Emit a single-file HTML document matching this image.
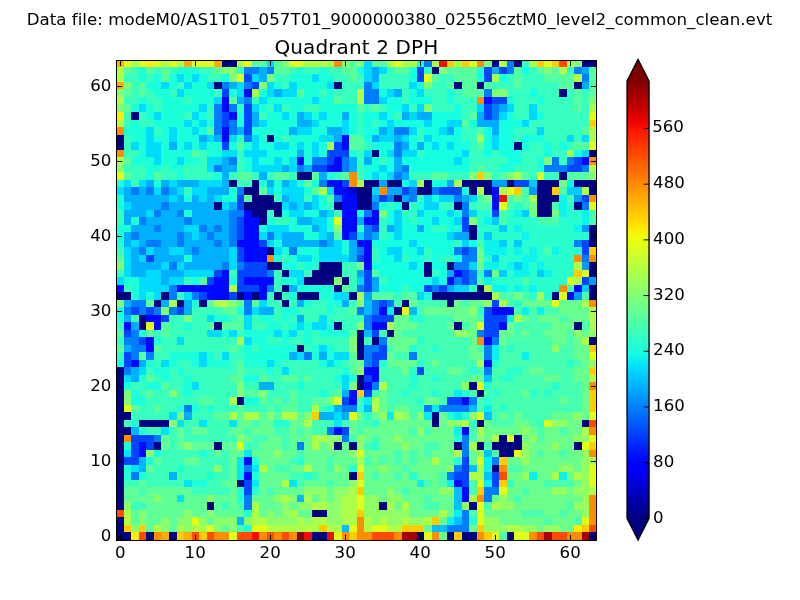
<!DOCTYPE html>
<html><head><meta charset="utf-8"><title>Quadrant 2 DPH</title>
<style>
html,body{margin:0;padding:0;background:#fff;}
body{width:800px;height:600px;overflow:hidden;}
svg{display:block;will-change:transform;font-family:"DejaVu Sans","Liberation Sans",sans-serif;}
</style></head><body>
<svg width="800" height="600" viewBox="0 0 800 600">
<defs><linearGradient id="jg" x1="0" y1="81.10" x2="0" y2="518.40" gradientUnits="userSpaceOnUse"><stop offset="0.0000" stop-color="#800000"/><stop offset="0.0156" stop-color="#920000"/><stop offset="0.0312" stop-color="#a40000"/><stop offset="0.0469" stop-color="#b60000"/><stop offset="0.0625" stop-color="#c80000"/><stop offset="0.0781" stop-color="#da0000"/><stop offset="0.0938" stop-color="#ed0400"/><stop offset="0.1094" stop-color="#ff1300"/><stop offset="0.1250" stop-color="#ff2200"/><stop offset="0.1406" stop-color="#ff3000"/><stop offset="0.1562" stop-color="#ff3f00"/><stop offset="0.1719" stop-color="#ff4e00"/><stop offset="0.1875" stop-color="#ff5d00"/><stop offset="0.2031" stop-color="#ff6c00"/><stop offset="0.2188" stop-color="#ff7a00"/><stop offset="0.2344" stop-color="#ff8900"/><stop offset="0.2500" stop-color="#ff9800"/><stop offset="0.2656" stop-color="#ffa700"/><stop offset="0.2812" stop-color="#ffb600"/><stop offset="0.2969" stop-color="#ffc400"/><stop offset="0.3125" stop-color="#ffd300"/><stop offset="0.3281" stop-color="#ffe200"/><stop offset="0.3438" stop-color="#fbf100"/><stop offset="0.3594" stop-color="#eeff09"/><stop offset="0.3750" stop-color="#e1ff16"/><stop offset="0.3906" stop-color="#d4ff23"/><stop offset="0.4062" stop-color="#c7ff30"/><stop offset="0.4219" stop-color="#baff3c"/><stop offset="0.4375" stop-color="#adff49"/><stop offset="0.4531" stop-color="#a0ff56"/><stop offset="0.4688" stop-color="#94ff63"/><stop offset="0.4844" stop-color="#87ff70"/><stop offset="0.5000" stop-color="#7aff7d"/><stop offset="0.5156" stop-color="#6dff8a"/><stop offset="0.5312" stop-color="#60ff97"/><stop offset="0.5469" stop-color="#53ffa4"/><stop offset="0.5625" stop-color="#46ffb1"/><stop offset="0.5781" stop-color="#39ffbe"/><stop offset="0.5938" stop-color="#2cffca"/><stop offset="0.6094" stop-color="#1fffd7"/><stop offset="0.6250" stop-color="#13fce4"/><stop offset="0.6406" stop-color="#06ecf1"/><stop offset="0.6562" stop-color="#00dcfe"/><stop offset="0.6719" stop-color="#00ccff"/><stop offset="0.6875" stop-color="#00bcff"/><stop offset="0.7031" stop-color="#00acff"/><stop offset="0.7188" stop-color="#009cff"/><stop offset="0.7344" stop-color="#008cff"/><stop offset="0.7500" stop-color="#007dff"/><stop offset="0.7656" stop-color="#006dff"/><stop offset="0.7812" stop-color="#005dff"/><stop offset="0.7969" stop-color="#004dff"/><stop offset="0.8125" stop-color="#003dff"/><stop offset="0.8281" stop-color="#002dff"/><stop offset="0.8438" stop-color="#001dff"/><stop offset="0.8594" stop-color="#000dff"/><stop offset="0.8750" stop-color="#0000ff"/><stop offset="0.8906" stop-color="#0000fa"/><stop offset="0.9062" stop-color="#0000e8"/><stop offset="0.9219" stop-color="#0000d6"/><stop offset="0.9375" stop-color="#0000c4"/><stop offset="0.9531" stop-color="#0000b2"/><stop offset="0.9688" stop-color="#00009f"/><stop offset="0.9844" stop-color="#00008d"/><stop offset="1.0000" stop-color="#000080"/></linearGradient></defs>
<rect width="800" height="600" fill="#fff"/>
<g shape-rendering="crispEdges"><path fill="#000080" d="M222 60h15v7h-15zM492 60h7v7h-7zM514 60h8v7h-8zM582 60h15v7h-15zM432 67h7v7h-7zM214 82h8v7h-8zM334 82h8v7h-8zM454 82h8v7h-8zM477 82h7v7h-7zM574 82h8v7h-8zM559 89h8v8h-8zM131 112h8v8h-8zM116 135h8v7h-8zM267 135h7v7h-7zM116 142h8v8h-8zM514 142h8v8h-8zM372 150h7v7h-7zM589 150h8v7h-8zM297 172h15v8h-15zM559 172h8v8h-8zM229 180h8v7h-8zM252 180h7v7h-7zM364 180h15v7h-15zM387 180h15v7h-15zM424 180h8v7h-8zM462 180h30v7h-30zM507 180h7v7h-7zM537 180h22v7h-22zM574 180h23v7h-23zM244 187h15v8h-15zM357 187h15v8h-15zM417 187h15v8h-15zM469 187h8v8h-8zM484 187h8v8h-8zM537 187h15v8h-15zM589 187h8v8h-8zM252 195h22v7h-22zM357 195h15v7h-15zM394 195h8v7h-8zM537 195h22v7h-22zM214 202h8v8h-8zM244 202h38v8h-38zM334 202h8v8h-8zM357 202h15v8h-15zM402 202h7v8h-7zM454 202h8v8h-8zM537 202h15v8h-15zM574 202h8v8h-8zM252 210h15v7h-15zM274 210h8v7h-8zM537 210h15v7h-15zM259 217h8v8h-8zM469 225h8v7h-8zM589 225h8v7h-8zM469 232h8v8h-8zM589 232h8v8h-8zM589 240h8v7h-8zM267 247h7v8h-7zM267 262h15v8h-15zM319 262h23v8h-23zM424 262h8v8h-8zM447 262h7v8h-7zM589 262h8v8h-8zM282 270h7v7h-7zM312 270h30v7h-30zM424 270h8v7h-8zM589 270h8v7h-8zM304 277h30v8h-30zM342 277h7v8h-7zM282 285h7v7h-7zM334 285h8v7h-8zM477 285h7v7h-7zM589 285h8v7h-8zM116 292h15v8h-15zM161 292h8v8h-8zM237 292h7v8h-7zM252 292h7v8h-7zM274 292h8v8h-8zM297 292h22v8h-22zM349 292h8v8h-8zM432 292h60v8h-60zM552 292h7v8h-7zM589 292h8v8h-8zM154 300h7v7h-7zM177 300h7v7h-7zM199 300h8v7h-8zM282 300h7v7h-7zM402 300h7v7h-7zM447 300h7v7h-7zM394 307h8v8h-8zM139 315h7v7h-7zM139 322h7v8h-7zM214 322h8v8h-8zM334 322h8v8h-8zM454 322h8v8h-8zM574 322h8v8h-8zM357 330h7v7h-7zM387 330h7v7h-7zM357 337h7v8h-7zM372 337h7v8h-7zM589 337h8v8h-8zM297 345h7v7h-7zM357 345h7v7h-7zM357 352h7v8h-7zM116 367h8v8h-8zM116 375h8v7h-8zM357 375h7v7h-7zM116 382h8v8h-8zM357 382h7v8h-7zM469 382h8v8h-8zM116 390h8v7h-8zM477 390h7v7h-7zM116 397h8v8h-8zM237 397h7v8h-7zM116 405h8v7h-8zM116 412h15v8h-15zM432 412h7v8h-7zM116 420h8v7h-8zM139 420h30v7h-30zM432 420h7v7h-7zM477 420h7v7h-7zM582 420h7v7h-7zM116 427h15v8h-15zM116 435h8v7h-8zM499 435h8v7h-8zM514 435h8v7h-8zM116 442h8v8h-8zM154 442h7v8h-7zM214 442h8v8h-8zM334 442h8v8h-8zM349 442h8v8h-8zM454 442h8v8h-8zM477 442h7v8h-7zM492 442h30v8h-30zM574 442h8v8h-8zM116 450h8v7h-8zM499 450h15v7h-15zM116 457h8v8h-8zM116 465h8v7h-8zM492 465h7v7h-7zM116 472h8v8h-8zM349 472h8v8h-8zM116 480h8v7h-8zM237 480h7v7h-7zM116 487h8v8h-8zM116 495h8v7h-8zM116 502h8v8h-8zM207 502h7v8h-7zM379 502h8v8h-8zM469 502h8v8h-8zM312 510h15v7h-15zM116 517h8v8h-8zM116 525h8v7h-8zM116 532h15v8h-15zM146 532h8v8h-8zM169 532h8v8h-8zM312 532h15v8h-15zM417 532h7v8h-7zM447 532h7v8h-7zM462 532h15v8h-15zM507 532h7v8h-7zM589 532h8v8h-8z"/><path fill="#0000d1" d="M349 187h8v8h-8z"/><path fill="#0008ff" d="M244 89h8v8h-8zM222 97h7v7h-7zM484 97h8v7h-8zM222 104h7v8h-7zM229 112h8v8h-8zM222 127h7v8h-7zM222 135h7v7h-7zM342 135h7v7h-7zM342 142h7v8h-7zM297 157h7v8h-7zM334 157h8v8h-8zM582 157h7v8h-7zM327 165h15v7h-15zM327 180h15v7h-15zM334 187h15v8h-15zM492 187h7v8h-7zM342 195h15v7h-15zM492 195h7v7h-7zM342 202h15v8h-15zM492 202h7v8h-7zM244 210h8v7h-8zM342 210h15v7h-15zM372 210h7v7h-7zM244 217h15v8h-15zM342 217h15v8h-15zM364 217h15v8h-15zM244 225h15v7h-15zM342 225h15v7h-15zM244 232h15v8h-15zM342 232h7v8h-7zM237 240h22v7h-22zM357 240h15v7h-15zM244 247h23v8h-23zM364 247h8v8h-8zM244 255h23v7h-23zM364 255h8v7h-8zM364 262h8v8h-8zM222 270h7v7h-7zM454 270h8v7h-8zM214 277h15v8h-15zM244 277h30v8h-30zM447 277h7v8h-7zM116 285h8v7h-8zM177 285h52v7h-52zM259 285h8v7h-8zM574 285h8v7h-8zM207 292h22v8h-22zM244 292h8v8h-8zM259 292h8v8h-8zM567 292h7v8h-7zM379 307h8v8h-8zM492 307h22v8h-22zM146 315h15v7h-15zM124 322h7v8h-7zM154 322h7v8h-7zM372 322h15v8h-15zM499 322h8v8h-8zM146 337h8v8h-8zM484 337h8v8h-8zM146 345h8v7h-8zM131 360h8v7h-8zM484 360h8v7h-8zM364 367h15v8h-15zM372 375h7v7h-7zM364 382h8v8h-8zM349 390h8v7h-8zM349 397h8v8h-8zM462 397h7v8h-7zM334 427h8v8h-8zM462 427h7v8h-7zM139 442h7v8h-7zM139 450h7v7h-7zM244 457h8v8h-8zM244 472h8v8h-8zM454 480h8v7h-8zM462 487h7v8h-7zM462 495h7v7h-7z"/><path fill="#0045ff" d="M417 67h7v7h-7zM484 67h8v7h-8zM499 67h8v7h-8zM244 74h8v8h-8zM417 74h7v8h-7zM484 74h8v8h-8zM252 82h7v7h-7zM222 89h7v8h-7zM492 97h15v7h-15zM244 104h8v8h-8zM484 104h8v8h-8zM222 112h7v8h-7zM244 112h8v8h-8zM484 112h8v8h-8zM222 120h7v7h-7zM244 120h8v7h-8zM244 127h8v8h-8zM222 142h7v8h-7zM334 142h8v8h-8zM327 150h22v7h-22zM327 157h7v8h-7zM574 157h8v8h-8zM312 165h15v7h-15zM567 165h15v7h-15zM342 180h7v7h-7zM514 180h15v7h-15zM402 187h7v8h-7zM439 187h23v8h-23zM237 195h7v7h-7zM379 195h8v7h-8zM582 195h7v7h-7zM237 202h7v8h-7zM492 210h7v7h-7zM237 217h7v8h-7zM462 217h7v8h-7zM237 225h7v7h-7zM372 225h7v7h-7zM462 225h7v7h-7zM237 232h7v8h-7zM349 232h8v8h-8zM259 240h8v7h-8zM582 240h7v7h-7zM237 247h7v8h-7zM462 247h7v8h-7zM582 247h7v8h-7zM146 255h8v7h-8zM237 255h7v7h-7zM357 255h7v7h-7zM244 262h23v8h-23zM214 270h8v7h-8zM237 270h30v7h-30zM364 270h8v7h-8zM462 270h7v7h-7zM207 277h7v8h-7zM237 277h7v8h-7zM364 277h8v8h-8zM462 277h7v8h-7zM582 277h7v8h-7zM237 285h22v7h-22zM364 285h8v7h-8zM424 285h8v7h-8zM439 285h8v7h-8zM199 292h8v8h-8zM229 292h8v8h-8zM379 300h8v7h-8zM492 300h7v7h-7zM131 307h8v8h-8zM146 307h8v8h-8zM177 307h7v8h-7zM484 307h8v8h-8zM161 315h8v7h-8zM372 315h22v7h-22zM484 315h23v7h-23zM484 322h15v8h-15zM124 330h7v7h-7zM372 330h7v7h-7zM484 330h15v7h-15zM139 337h7v8h-7zM379 345h8v7h-8zM124 352h7v8h-7zM372 352h15v8h-15zM124 360h7v7h-7zM372 360h7v7h-7zM417 367h7v8h-7zM364 375h8v7h-8zM364 390h8v7h-8zM342 397h7v8h-7zM447 397h15v8h-15zM342 427h7v8h-7zM131 435h23v7h-23zM131 442h8v8h-8zM146 442h8v8h-8zM131 450h8v7h-8zM124 457h15v8h-15zM462 457h7v8h-7zM462 465h7v7h-7zM454 472h15v8h-15zM492 472h7v8h-7zM244 480h8v7h-8zM462 480h7v7h-7zM492 480h7v7h-7zM244 487h8v8h-8z"/><path fill="#007dff" d="M424 60h8v7h-8zM507 60h7v7h-7zM244 67h15v7h-15zM267 67h7v7h-7zM507 67h7v7h-7zM574 67h8v7h-8zM582 74h7v8h-7zM222 82h7v7h-7zM244 82h8v7h-8zM364 82h8v7h-8zM364 89h15v8h-15zM484 89h8v8h-8zM244 97h8v7h-8zM364 97h15v7h-15zM214 104h8v8h-8zM229 104h8v8h-8zM492 104h7v8h-7zM214 112h8v8h-8zM492 112h7v8h-7zM214 120h8v7h-8zM229 120h8v7h-8zM214 127h8v8h-8zM229 127h8v8h-8zM394 127h15v8h-15zM244 135h8v7h-8zM394 142h8v8h-8zM394 150h8v7h-8zM229 157h8v8h-8zM312 157h15v8h-15zM342 157h7v8h-7zM552 157h7v8h-7zM567 157h7v8h-7zM214 165h8v7h-8zM297 165h7v7h-7zM342 165h7v7h-7zM402 165h7v7h-7zM544 165h23v7h-23zM582 165h7v7h-7zM394 172h8v8h-8zM319 180h8v7h-8zM131 187h8v8h-8zM146 187h8v8h-8zM161 187h8v8h-8zM237 187h7v8h-7zM409 187h8v8h-8zM432 187h7v8h-7zM334 195h8v7h-8zM387 195h7v7h-7zM409 195h8v7h-8zM454 195h8v7h-8zM161 202h8v8h-8zM372 202h7v8h-7zM462 202h7v8h-7zM582 202h7v8h-7zM154 210h7v7h-7zM177 210h7v7h-7zM229 210h15v7h-15zM364 210h8v7h-8zM462 210h7v7h-7zM139 217h7v8h-7zM184 217h8v8h-8zM229 217h8v8h-8zM154 225h7v7h-7zM199 225h8v7h-8zM214 225h8v7h-8zM229 225h8v7h-8zM364 225h8v7h-8zM131 232h8v8h-8zM177 232h7v8h-7zM207 232h7v8h-7zM229 232h8v8h-8zM267 232h7v8h-7zM364 232h8v8h-8zM146 240h15v7h-15zM177 240h7v7h-7zM214 240h8v7h-8zM229 240h8v7h-8zM319 240h8v7h-8zM574 240h8v7h-8zM139 247h7v8h-7zM192 247h7v8h-7zM289 247h8v8h-8zM357 247h7v8h-7zM454 247h8v8h-8zM469 247h8v8h-8zM462 255h15v7h-15zM582 255h7v7h-7zM169 262h8v8h-8zM222 262h7v8h-7zM237 262h7v8h-7zM454 262h15v8h-15zM267 270h7v7h-7zM469 270h8v7h-8zM484 270h8v7h-8zM454 277h8v8h-8zM469 277h8v8h-8zM169 285h8v7h-8zM267 285h7v7h-7zM357 285h7v7h-7zM432 285h7v7h-7zM169 292h8v8h-8zM192 292h7v8h-7zM131 300h15v7h-15zM244 300h8v7h-8zM372 300h7v7h-7zM387 300h7v7h-7zM124 307h7v8h-7zM139 307h7v8h-7zM154 307h7v8h-7zM169 307h8v8h-8zM244 307h8v8h-8zM357 307h7v8h-7zM372 307h7v8h-7zM364 315h8v7h-8zM364 322h8v8h-8zM131 330h8v7h-8zM477 330h7v7h-7zM124 337h15v8h-15zM379 337h8v8h-8zM492 337h7v8h-7zM131 345h15v7h-15zM364 345h15v7h-15zM484 345h8v7h-8zM131 352h8v8h-8zM146 352h8v8h-8zM304 352h8v8h-8zM364 352h8v8h-8zM409 352h8v8h-8zM484 352h8v8h-8zM364 360h8v7h-8zM124 367h7v8h-7zM484 367h8v8h-8zM372 382h7v8h-7zM469 397h8v8h-8zM184 405h8v7h-8zM342 405h15v7h-15zM424 405h8v7h-8zM439 405h30v7h-30zM327 427h7v8h-7zM154 435h7v7h-7zM342 435h7v7h-7zM462 435h7v7h-7zM297 442h7v8h-7zM462 442h7v8h-7zM462 450h7v7h-7zM492 457h7v8h-7zM244 465h8v7h-8zM454 465h8v7h-8zM131 472h8v8h-8zM447 472h7v8h-7zM484 487h15v8h-15zM244 495h8v7h-8zM484 495h8v7h-8zM244 502h8v8h-8zM462 510h7v7h-7zM462 517h7v8h-7zM447 525h22v7h-22z"/><path fill="#009cff" d="M492 180h15v7h-15zM529 187h8v8h-8zM574 195h8v7h-8zM582 225h7v7h-7zM582 262h7v8h-7zM589 277h8v8h-8zM574 292h8v8h-8z"/><path fill="#00a9ff" d="M379 180h8v7h-8zM447 180h7v7h-7zM387 187h15v8h-15zM372 195h7v7h-7zM402 195h7v7h-7zM462 195h7v7h-7zM357 217h7v8h-7zM387 225h7v7h-7zM417 225h7v7h-7zM372 232h7v8h-7zM454 232h15v8h-15zM357 270h7v7h-7zM447 270h7v7h-7zM372 277h7v8h-7zM372 285h7v7h-7zM447 285h7v7h-7zM364 292h8v8h-8z"/><path fill="#00acff" d="M372 67h7v7h-7zM492 67h7v7h-7zM582 67h7v7h-7zM372 74h7v8h-7zM582 82h7v7h-7zM394 89h8v8h-8zM499 104h8v8h-8zM402 112h7v8h-7zM417 112h15v8h-15zM477 112h7v8h-7zM477 120h22v7h-22zM379 127h8v8h-8zM447 127h7v8h-7zM492 127h7v8h-7zM372 135h7v7h-7zM394 135h8v7h-8zM402 142h7v8h-7zM417 142h7v8h-7zM364 157h8v8h-8zM394 157h8v8h-8zM394 165h8v7h-8zM402 172h7v8h-7z"/><path fill="#00b0ff" d="M259 67h8v7h-8zM259 74h8v8h-8zM229 82h8v7h-8zM274 89h8v8h-8zM237 97h7v7h-7zM252 112h7v8h-7zM297 112h7v8h-7zM342 112h7v8h-7zM252 120h7v7h-7zM297 120h15v7h-15zM237 127h7v8h-7zM289 127h8v8h-8zM327 127h15v8h-15zM199 135h8v7h-8zM214 135h8v7h-8zM334 135h8v7h-8zM169 142h8v8h-8zM297 150h7v7h-7zM222 157h7v8h-7zM349 157h8v8h-8zM222 165h15v7h-15zM282 165h7v7h-7zM304 165h8v7h-8zM349 165h8v7h-8zM222 172h7v8h-7zM259 172h8v8h-8zM319 172h8v8h-8zM146 180h8v7h-8zM161 180h8v7h-8zM177 180h22v7h-22zM222 180h7v7h-7zM267 180h7v7h-7zM282 180h7v7h-7zM124 187h7v8h-7zM139 187h7v8h-7zM169 187h8v8h-8zM207 187h22v8h-22zM124 195h45v7h-45zM177 195h7v7h-7zM192 195h7v7h-7zM207 195h7v7h-7zM282 195h7v7h-7zM131 202h30v8h-30zM169 202h45v8h-45zM229 202h8v8h-8zM289 202h8v8h-8zM304 202h8v8h-8zM124 210h22v7h-22zM161 210h16v7h-16zM192 210h37v7h-37zM319 210h8v7h-8zM124 217h7v8h-7zM146 217h38v8h-38zM192 217h37v8h-37zM297 217h15v8h-15zM131 225h23v7h-23zM161 225h23v7h-23zM207 225h7v7h-7zM222 225h7v7h-7zM312 225h7v7h-7zM124 232h7v8h-7zM139 232h38v8h-38zM184 232h8v8h-8zM199 232h8v8h-8zM214 232h15v8h-15zM282 232h22v8h-22zM327 232h7v8h-7zM124 240h7v7h-7zM139 240h7v7h-7zM161 240h16v7h-16zM184 240h30v7h-30zM222 240h7v7h-7zM282 240h37v7h-37zM327 240h7v7h-7zM349 240h8v7h-8zM131 247h8v8h-8zM154 247h15v8h-15zM184 247h8v8h-8zM199 247h30v8h-30zM349 247h8v8h-8zM131 255h8v7h-8zM154 255h30v7h-30zM192 255h37v7h-37zM349 255h8v7h-8zM131 262h30v8h-30zM184 262h38v8h-38zM131 270h15v7h-15zM161 270h23v7h-23zM161 277h8v8h-8zM289 285h8v7h-8zM124 300h7v7h-7zM161 300h8v7h-8zM184 300h8v7h-8zM297 300h7v7h-7zM342 300h7v7h-7zM184 307h8v8h-8zM259 307h15v8h-15zM124 315h7v7h-7zM297 315h7v7h-7zM131 322h8v8h-8zM124 345h7v7h-7zM289 352h8v8h-8zM319 352h8v8h-8zM139 360h7v7h-7zM131 367h8v8h-8zM131 375h8v7h-8zM259 382h15v8h-15zM342 390h7v7h-7zM334 405h8v7h-8zM184 412h8v8h-8zM319 412h15v8h-15zM342 412h7v8h-7z"/><path fill="#00b4ff" d="M131 427h8v8h-8zM139 457h7v8h-7zM139 465h7v7h-7zM169 472h8v8h-8z"/><path fill="#00b9ff" d="M297 495h7v7h-7zM237 517h7v8h-7zM342 525h7v7h-7z"/><path fill="#00bcff" d="M364 300h8v7h-8zM364 307h8v8h-8zM409 307h8v8h-8zM364 330h8v7h-8zM364 405h8v7h-8zM469 405h8v7h-8z"/><path fill="#00c0ff" d="M484 375h8v7h-8zM484 412h8v8h-8zM469 465h8v7h-8zM454 487h8v8h-8zM454 495h8v7h-8zM454 502h8v8h-8zM454 517h8v8h-8zM432 525h15v7h-15z"/><path fill="#00c4ff" d="M484 450h8v7h-8zM484 472h8v8h-8z"/><path fill="#00ccff" d="M529 180h8v7h-8zM567 187h15v8h-15zM522 210h7v7h-7zM492 217h7v8h-7zM499 225h8v7h-8zM484 232h8v8h-8zM499 240h8v7h-8zM514 240h8v7h-8zM492 255h7v7h-7zM514 262h8v8h-8zM499 270h8v7h-8zM537 270h7v7h-7zM582 285h7v7h-7z"/><path fill="#00d4ff" d="M409 180h8v7h-8zM372 187h7v8h-7zM424 195h8v7h-8zM439 195h15v7h-15zM469 195h8v7h-8zM424 202h15v8h-15zM394 210h8v7h-8zM417 210h7v7h-7zM447 210h7v7h-7zM469 210h8v7h-8zM394 217h8v8h-8zM432 217h7v8h-7zM454 217h8v8h-8zM394 225h8v7h-8zM357 232h7v8h-7zM394 232h8v8h-8zM447 232h7v8h-7zM409 240h8v7h-8zM462 240h7v7h-7zM387 247h15v8h-15zM417 247h7v8h-7zM394 255h8v7h-8zM409 262h8v8h-8zM469 262h8v8h-8zM357 277h7v8h-7zM432 277h7v8h-7zM454 285h15v7h-15zM417 292h7v8h-7z"/><path fill="#00d9ff" d="M364 60h8v7h-8zM364 67h8v7h-8zM379 67h8v7h-8zM364 74h8v8h-8zM372 82h7v7h-7zM409 82h8v7h-8zM387 89h7v8h-7zM417 89h7v8h-7zM379 97h8v7h-8zM402 104h7v8h-7zM417 104h7v8h-7zM477 104h7v8h-7zM507 104h7v8h-7zM529 104h8v8h-8zM379 112h8v8h-8zM409 112h8v8h-8zM499 112h8v8h-8zM529 112h8v8h-8zM387 120h7v7h-7zM424 120h8v7h-8zM447 120h15v7h-15zM522 120h7v7h-7zM387 127h7v8h-7zM409 127h8v8h-8zM439 127h8v8h-8zM537 127h7v8h-7zM379 135h15v7h-15zM402 135h7v7h-7zM424 135h8v7h-8zM492 135h7v7h-7zM567 135h7v7h-7zM582 135h7v7h-7zM432 142h7v8h-7zM447 142h7v8h-7zM492 142h7v8h-7zM364 150h8v7h-8zM387 150h7v7h-7zM402 150h15v7h-15zM462 150h7v7h-7zM582 150h7v7h-7zM454 157h8v8h-8zM379 165h8v7h-8zM372 172h7v8h-7zM387 172h7v8h-7z"/><path fill="#00dcfe" d="M267 60h7v7h-7zM177 74h7v8h-7zM192 74h7v8h-7zM252 74h7v8h-7zM312 74h7v8h-7zM161 82h8v7h-8zM184 82h8v7h-8zM207 82h7v7h-7zM237 82h7v7h-7zM267 82h7v7h-7zM289 82h8v7h-8zM327 82h7v7h-7zM177 89h7v8h-7zM237 89h7v8h-7zM267 89h7v8h-7zM282 89h15v8h-15zM214 97h8v7h-8zM259 97h8v7h-8zM312 97h7v7h-7zM139 104h7v8h-7zM199 104h8v8h-8zM252 104h7v8h-7zM274 104h8v8h-8zM154 112h7v8h-7zM192 112h7v8h-7zM282 112h7v8h-7zM304 112h8v8h-8zM319 112h8v8h-8zM184 120h8v7h-8zM199 120h8v7h-8zM259 120h8v7h-8zM312 120h7v7h-7zM342 120h7v7h-7zM146 127h8v8h-8zM169 127h8v8h-8zM192 127h7v8h-7zM297 127h15v8h-15zM342 127h7v8h-7zM146 135h8v7h-8zM169 135h8v7h-8zM207 135h7v7h-7zM229 135h8v7h-8zM252 135h7v7h-7zM319 135h15v7h-15zM131 142h8v8h-8zM146 142h15v8h-15zM184 142h8v8h-8zM199 142h8v8h-8zM252 142h7v8h-7zM274 142h15v8h-15zM297 142h7v8h-7zM312 142h7v8h-7zM146 150h15v7h-15zM222 150h15v7h-15zM244 150h23v7h-23zM312 150h7v7h-7zM154 157h7v8h-7zM177 157h7v8h-7zM207 157h15v8h-15zM252 157h7v8h-7zM274 157h8v8h-8zM289 157h8v8h-8zM207 165h7v7h-7zM252 165h30v7h-30zM289 165h8v7h-8zM124 180h7v7h-7zM139 180h7v7h-7zM169 180h8v7h-8zM199 180h23v7h-23zM289 180h8v7h-8zM116 187h8v8h-8zM154 187h7v8h-7zM177 187h7v8h-7zM192 187h15v8h-15zM267 187h7v8h-7zM282 187h22v8h-22zM327 187h7v8h-7zM169 195h8v7h-8zM199 195h8v7h-8zM214 195h8v7h-8zM289 195h15v7h-15zM312 195h7v7h-7zM124 202h7v8h-7zM222 202h7v8h-7zM282 202h7v8h-7zM297 202h7v8h-7zM312 202h7v8h-7zM146 210h8v7h-8zM289 210h15v7h-15zM327 210h7v7h-7zM312 217h15v8h-15zM184 225h15v7h-15zM267 225h22v7h-22zM319 225h8v7h-8zM192 232h7v8h-7zM259 232h8v8h-8zM274 232h8v8h-8zM319 232h8v8h-8zM131 240h8v7h-8zM267 240h7v7h-7zM334 240h8v7h-8zM124 247h7v8h-7zM146 247h8v8h-8zM169 247h15v8h-15zM229 247h8v8h-8zM274 247h8v8h-8zM319 247h23v8h-23zM124 255h7v7h-7zM139 255h7v7h-7zM229 255h8v7h-8zM297 255h15v7h-15zM319 255h30v7h-30zM124 262h7v8h-7zM161 262h8v8h-8zM177 262h7v8h-7zM229 262h8v8h-8zM124 270h7v7h-7zM146 270h15v7h-15zM184 270h30v7h-30zM289 270h15v7h-15zM116 277h8v8h-8zM139 277h22v8h-22zM169 277h15v8h-15zM297 277h7v8h-7zM139 285h30v7h-30zM139 292h7v8h-7zM154 292h7v8h-7zM184 292h8v8h-8zM334 292h15v8h-15zM259 300h8v7h-8zM252 307h7v8h-7zM207 315h7v7h-7zM244 315h8v7h-8zM319 315h8v7h-8zM244 322h8v8h-8zM297 322h7v8h-7zM312 322h15v8h-15zM207 330h15v7h-15zM229 330h8v7h-8zM274 330h8v7h-8zM289 330h8v7h-8zM177 337h7v8h-7zM244 337h8v8h-8zM319 345h8v7h-8zM199 352h8v8h-8zM222 352h7v8h-7zM297 352h7v8h-7zM334 352h15v8h-15zM161 360h8v7h-8zM199 360h8v7h-8zM267 360h7v7h-7zM327 360h7v7h-7zM139 367h7v8h-7zM282 367h7v8h-7zM124 375h7v7h-7zM342 375h7v7h-7zM192 382h7v8h-7zM342 382h7v8h-7zM169 412h8v8h-8zM334 412h8v8h-8z"/><path fill="#00e4f8" d="M177 420h7v7h-7zM199 420h8v7h-8zM229 420h8v7h-8zM161 427h8v8h-8zM124 450h7v7h-7zM131 465h8v7h-8zM184 480h8v7h-8zM177 495h7v7h-7z"/><path fill="#02e9f4" d="M334 420h8v7h-8zM244 450h8v7h-8zM237 457h7v8h-7zM237 465h7v7h-7zM252 465h7v7h-7zM237 472h7v8h-7zM252 480h7v7h-7zM289 480h8v7h-8z"/><path fill="#06ecf1" d="M387 307h7v8h-7zM454 390h8v7h-8zM364 397h8v8h-8zM432 405h7v7h-7zM387 412h7v8h-7zM424 412h8v8h-8zM454 412h8v8h-8z"/><path fill="#09f0ee" d="M522 307h7v8h-7zM537 307h7v8h-7zM507 315h7v7h-7zM492 345h7v7h-7zM492 352h7v8h-7zM522 352h7v8h-7zM484 405h8v7h-8zM454 427h8v8h-8zM484 457h8v8h-8zM484 465h8v7h-8zM529 472h8v8h-8zM559 472h8v8h-8zM417 480h7v7h-7zM447 480h7v7h-7zM484 480h8v7h-8zM454 510h8v7h-8zM447 517h7v8h-7z"/><path fill="#0cf4eb" d="M567 180h7v7h-7zM559 195h8v7h-8zM559 202h8v8h-8zM514 210h8v7h-8zM559 210h8v7h-8zM582 210h7v7h-7zM484 217h8v8h-8zM582 217h7v8h-7zM514 225h8v7h-8zM574 225h8v7h-8zM522 232h7v8h-7zM484 240h15v7h-15zM484 247h23v8h-23zM514 247h8v8h-8zM529 247h8v8h-8zM552 247h7v8h-7zM522 255h15v7h-15zM484 262h15v8h-15zM507 262h7v8h-7zM522 262h7v8h-7zM537 262h7v8h-7zM514 270h15v7h-15zM544 270h8v7h-8zM484 277h8v8h-8zM492 285h15v7h-15zM514 285h8v7h-8zM529 285h8v7h-8z"/><path fill="#16ffe1" d="M417 60h7v7h-7zM357 67h7v7h-7zM409 67h8v7h-8zM477 67h7v7h-7zM522 67h7v7h-7zM409 74h8v8h-8zM477 74h7v8h-7zM499 74h8v8h-8zM417 82h7v7h-7zM379 89h8v8h-8zM409 89h8v8h-8zM447 89h7v8h-7zM529 89h8v8h-8zM387 97h15v7h-15zM409 97h23v7h-23zM447 97h7v7h-7zM507 97h7v7h-7zM537 97h7v7h-7zM387 104h15v8h-15zM454 104h8v8h-8zM364 112h15v8h-15zM387 112h7v8h-7zM432 112h30v8h-30zM507 112h7v8h-7zM537 112h7v8h-7zM364 120h8v7h-8zM379 120h8v7h-8zM394 120h30v7h-30zM432 120h15v7h-15zM469 120h8v7h-8zM499 120h23v7h-23zM364 127h15v8h-15zM424 127h15v8h-15zM454 127h8v8h-8zM484 127h8v8h-8zM499 127h15v8h-15zM364 135h8v7h-8zM409 135h8v7h-8zM432 135h30v7h-30zM484 135h8v7h-8zM499 135h15v7h-15zM522 135h22v7h-22zM372 142h22v8h-22zM409 142h8v8h-8zM424 142h8v8h-8zM439 142h8v8h-8zM454 142h15v8h-15zM484 142h8v8h-8zM499 142h15v8h-15zM522 142h7v8h-7zM544 142h8v8h-8zM559 142h8v8h-8zM379 150h8v7h-8zM424 150h38v7h-38zM484 150h8v7h-8zM499 150h23v7h-23zM544 150h8v7h-8zM574 150h8v7h-8zM372 157h7v8h-7zM387 157h7v8h-7zM402 157h52v8h-52zM462 157h7v8h-7zM507 157h15v8h-15zM537 157h7v8h-7zM364 165h15v7h-15zM387 165h7v7h-7zM409 165h60v7h-60zM499 165h15v7h-15zM537 165h7v7h-7zM364 172h8v8h-8zM379 172h8v8h-8zM402 180h7v7h-7zM432 180h15v7h-15zM462 187h7v8h-7zM432 195h7v7h-7zM379 202h8v8h-8zM394 202h8v8h-8zM417 202h7v8h-7zM357 210h7v7h-7zM387 210h7v7h-7zM424 210h23v7h-23zM454 210h8v7h-8zM387 217h7v8h-7zM402 217h7v8h-7zM417 217h15v8h-15zM439 217h15v8h-15zM402 225h15v7h-15zM424 225h8v7h-8zM447 225h15v7h-15zM387 232h7v8h-7zM402 232h45v8h-45zM372 240h37v7h-37zM417 240h37v7h-37zM469 240h8v7h-8zM379 247h8v8h-8zM402 247h15v8h-15zM432 247h22v8h-22zM379 255h15v7h-15zM409 255h15v7h-15zM432 255h7v7h-7zM454 255h8v7h-8zM372 262h37v8h-37zM417 262h7v8h-7zM432 262h15v8h-15zM379 270h45v7h-45zM439 270h8v7h-8zM387 277h45v8h-45zM439 277h8v8h-8zM379 285h23v7h-23zM409 285h15v7h-15zM424 292h8v8h-8z"/><path fill="#1cffdb" d="M139 67h7v7h-7zM177 67h22v7h-22zM297 67h7v7h-7zM319 67h8v7h-8zM139 74h7v8h-7zM154 74h7v8h-7zM169 74h8v8h-8zM184 74h8v8h-8zM199 74h8v8h-8zM222 74h7v8h-7zM289 74h23v8h-23zM319 74h15v8h-15zM146 82h15v7h-15zM169 82h8v7h-8zM192 82h15v7h-15zM274 82h8v7h-8zM297 82h30v7h-30zM154 89h15v8h-15zM184 89h30v8h-30zM229 89h8v8h-8zM259 89h8v8h-8zM304 89h15v8h-15zM327 89h7v8h-7zM139 97h7v7h-7zM161 97h23v7h-23zM192 97h22v7h-22zM267 97h45v7h-45zM319 97h15v7h-15zM131 104h8v8h-8zM146 104h8v8h-8zM161 104h38v8h-38zM259 104h8v8h-8zM289 104h15v8h-15zM319 104h38v8h-38zM146 112h8v8h-8zM161 112h23v8h-23zM199 112h8v8h-8zM237 112h7v8h-7zM267 112h15v8h-15zM289 112h8v8h-8zM312 112h7v8h-7zM327 112h15v8h-15zM349 112h8v8h-8zM131 120h8v7h-8zM154 120h30v7h-30zM192 120h7v7h-7zM207 120h7v7h-7zM237 120h7v7h-7zM267 120h30v7h-30zM319 120h23v7h-23zM349 120h8v7h-8zM124 127h22v8h-22zM161 127h8v8h-8zM177 127h15v8h-15zM199 127h8v8h-8zM252 127h37v8h-37zM312 127h15v8h-15zM349 127h8v8h-8zM131 135h15v7h-15zM154 135h15v7h-15zM177 135h22v7h-22zM259 135h8v7h-8zM274 135h8v7h-8zM289 135h30v7h-30zM139 142h7v8h-7zM161 142h8v8h-8zM177 142h7v8h-7zM192 142h7v8h-7zM207 142h15v8h-15zM229 142h8v8h-8zM244 142h8v8h-8zM259 142h15v8h-15zM289 142h8v8h-8zM304 142h8v8h-8zM319 142h8v8h-8zM139 150h7v7h-7zM161 150h31v7h-31zM207 150h15v7h-15zM267 150h30v7h-30zM304 150h8v7h-8zM319 150h8v7h-8zM349 150h8v7h-8zM131 157h23v8h-23zM161 157h16v8h-16zM184 157h15v8h-15zM244 157h8v8h-8zM259 157h15v8h-15zM282 157h7v8h-7zM304 157h8v8h-8zM146 165h15v7h-15zM169 165h15v7h-15zM244 165h8v7h-8zM146 172h8v8h-8zM177 172h7v8h-7zM214 172h8v8h-8zM327 172h7v8h-7zM116 180h8v7h-8zM154 180h7v7h-7zM259 180h8v7h-8zM274 180h8v7h-8zM297 180h7v7h-7zM312 180h7v7h-7zM229 187h8v8h-8zM274 187h8v8h-8zM304 187h8v8h-8zM116 195h8v7h-8zM184 195h8v7h-8zM222 195h15v7h-15zM319 195h8v7h-8zM116 202h8v8h-8zM319 202h8v8h-8zM184 210h8v7h-8zM282 210h7v7h-7zM304 210h15v7h-15zM131 217h8v8h-8zM267 217h7v8h-7zM289 217h8v8h-8zM327 217h7v8h-7zM116 225h15v7h-15zM259 225h8v7h-8zM289 225h23v7h-23zM327 225h7v7h-7zM116 232h8v8h-8zM304 232h15v8h-15zM116 240h8v7h-8zM274 240h8v7h-8zM342 240h7v7h-7zM282 247h7v8h-7zM297 247h22v8h-22zM342 247h7v8h-7zM184 255h8v7h-8zM274 255h8v7h-8zM289 255h8v7h-8zM312 255h7v7h-7zM282 262h15v8h-15zM304 262h15v8h-15zM124 277h15v8h-15zM192 277h7v8h-7zM229 277h8v8h-8zM282 277h15v8h-15zM131 285h8v7h-8zM297 285h37v7h-37zM131 292h8v8h-8zM146 292h8v8h-8zM289 292h8v8h-8zM319 292h15v8h-15zM192 300h7v7h-7zM304 300h8v7h-8zM327 300h15v7h-15zM116 307h8v8h-8zM237 307h7v8h-7zM282 307h15v8h-15zM327 307h7v8h-7zM116 315h8v7h-8zM214 315h15v7h-15zM259 315h15v7h-15zM282 315h7v7h-7zM184 322h8v8h-8zM267 322h15v8h-15zM289 322h8v8h-8zM304 322h8v8h-8zM327 322h7v8h-7zM139 330h7v7h-7zM222 330h7v7h-7zM244 330h30v7h-30zM282 330h7v7h-7zM304 330h8v7h-8zM319 330h30v7h-30zM154 337h7v8h-7zM252 337h15v8h-15zM282 337h7v8h-7zM304 337h8v8h-8zM244 345h8v7h-8zM259 345h38v7h-38zM312 345h7v7h-7zM327 345h7v7h-7zM169 352h30v8h-30zM207 352h7v8h-7zM244 352h45v8h-45zM312 352h7v8h-7zM327 352h7v8h-7zM116 360h8v7h-8zM146 360h8v7h-8zM169 360h8v7h-8zM192 360h7v7h-7zM207 360h22v7h-22zM244 360h23v7h-23zM274 360h8v7h-8zM319 360h8v7h-8zM334 360h8v7h-8zM154 367h15v8h-15zM177 367h7v8h-7zM267 367h7v8h-7zM342 367h7v8h-7zM139 375h7v7h-7zM161 375h8v7h-8zM184 375h8v7h-8zM244 375h15v7h-15zM334 375h8v7h-8zM349 375h8v7h-8zM124 382h7v8h-7zM146 382h15v8h-15zM184 382h8v8h-8zM297 382h7v8h-7zM131 390h8v7h-8zM184 390h8v7h-8zM319 390h8v7h-8zM131 397h15v8h-15zM244 397h15v8h-15zM177 405h7v7h-7zM192 405h7v7h-7zM207 405h7v7h-7zM327 405h7v7h-7z"/><path fill="#1fffd7" d="M131 420h8v7h-8zM139 427h7v8h-7zM124 442h7v8h-7zM154 450h7v7h-7zM199 450h8v7h-8zM146 457h8v8h-8zM124 465h7v7h-7zM177 465h7v7h-7zM124 472h7v8h-7zM139 472h7v8h-7zM207 472h7v8h-7zM192 480h15v7h-15z"/><path fill="#23ffd4" d="M274 420h15v7h-15zM252 457h7v8h-7zM297 457h7v8h-7zM349 465h8v7h-8zM252 472h7v8h-7zM304 472h8v8h-8zM237 487h7v8h-7zM252 487h7v8h-7zM237 495h7v7h-7zM244 510h8v7h-8zM244 525h8v7h-8z"/><path fill="#26ffd1" d="M409 315h15v7h-15zM417 337h7v8h-7zM409 345h8v7h-8zM432 345h7v7h-7zM379 360h8v7h-8zM417 360h7v7h-7zM409 367h8v8h-8zM469 367h8v8h-8zM409 375h8v7h-8zM432 375h7v7h-7zM409 382h8v8h-8zM402 390h7v7h-7zM432 390h7v7h-7zM462 390h7v7h-7zM417 397h7v8h-7zM357 405h7v7h-7zM364 412h8v8h-8zM447 412h7v8h-7zM462 412h7v8h-7z"/><path fill="#29ffce" d="M514 202h8v8h-8zM567 202h7v8h-7zM477 210h15v7h-15zM507 210h7v7h-7zM567 210h15v7h-15zM477 217h7v8h-7zM507 217h30v8h-30zM559 217h23v8h-23zM477 225h22v7h-22zM507 225h7v7h-7zM522 225h52v7h-52zM477 232h7v8h-7zM492 232h30v8h-30zM529 232h60v8h-60zM507 240h7v7h-7zM522 240h52v7h-52zM507 247h7v8h-7zM522 247h7v8h-7zM537 247h7v8h-7zM559 247h23v8h-23zM484 255h8v7h-8zM499 255h23v7h-23zM537 255h37v7h-37zM499 262h8v8h-8zM529 262h8v8h-8zM544 262h30v8h-30zM477 270h7v7h-7zM507 270h7v7h-7zM529 270h8v7h-8zM552 270h22v7h-22zM492 277h30v8h-30zM529 277h38v8h-38zM507 285h7v7h-7zM522 285h7v7h-7zM537 285h22v7h-22zM529 292h8v8h-8zM544 292h8v8h-8zM514 300h8v7h-8zM477 307h7v8h-7zM507 345h7v7h-7zM492 360h7v7h-7zM567 360h7v7h-7zM507 367h15v8h-15zM499 375h15v7h-15zM484 382h8v8h-8zM552 382h7v8h-7zM492 390h7v7h-7zM529 390h8v7h-8zM544 390h8v7h-8zM484 397h8v8h-8zM499 405h8v7h-8zM372 420h7v7h-7zM469 420h8v7h-8zM454 435h8v7h-8zM372 442h7v8h-7zM454 457h8v8h-8zM409 472h8v8h-8zM469 517h8v8h-8z"/><path fill="#2cffca" d="M537 420h7v7h-7zM507 480h7v7h-7z"/><path fill="#33ffc4" d="M417 195h7v7h-7zM387 202h7v8h-7zM409 202h8v8h-8zM439 202h15v8h-15zM469 202h8v8h-8zM402 210h15v7h-15zM379 217h8v8h-8zM409 217h8v8h-8zM357 225h7v7h-7zM379 225h8v7h-8zM432 225h15v7h-15zM379 232h8v8h-8zM454 240h8v7h-8zM372 247h7v8h-7zM424 247h8v8h-8zM372 255h7v7h-7zM402 255h7v7h-7zM424 255h8v7h-8zM439 255h15v7h-15zM432 270h7v7h-7zM379 277h8v8h-8zM402 285h7v7h-7zM469 285h8v7h-8zM394 292h8v8h-8z"/><path fill="#36ffc1" d="M522 60h7v7h-7zM387 67h7v7h-7zM424 67h8v7h-8zM529 67h8v7h-8zM567 67h7v7h-7zM357 74h7v8h-7zM379 74h30v8h-30zM439 74h15v8h-15zM507 74h7v8h-7zM522 74h22v8h-22zM357 82h7v7h-7zM379 82h30v7h-30zM432 82h15v7h-15zM492 82h22v7h-22zM522 82h37v7h-37zM402 89h7v8h-7zM424 89h23v8h-23zM454 89h8v8h-8zM507 89h22v8h-22zM537 89h22v8h-22zM567 89h7v8h-7zM582 89h7v8h-7zM402 97h7v7h-7zM432 97h15v7h-15zM454 97h23v7h-23zM514 97h23v7h-23zM544 97h30v7h-30zM582 97h7v7h-7zM364 104h8v8h-8zM379 104h8v8h-8zM409 104h8v8h-8zM432 104h22v8h-22zM462 104h15v8h-15zM514 104h15v8h-15zM537 104h37v8h-37zM582 104h7v8h-7zM357 112h7v8h-7zM394 112h8v8h-8zM462 112h7v8h-7zM514 112h15v8h-15zM544 112h45v8h-45zM357 120h7v7h-7zM372 120h7v7h-7zM529 120h60v7h-60zM357 127h7v8h-7zM417 127h7v8h-7zM462 127h15v8h-15zM514 127h23v8h-23zM544 127h38v8h-38zM417 135h7v7h-7zM462 135h15v7h-15zM514 135h8v7h-8zM544 135h23v7h-23zM574 135h8v7h-8zM364 142h8v8h-8zM469 142h8v8h-8zM529 142h15v8h-15zM552 142h7v8h-7zM567 142h7v8h-7zM357 150h7v7h-7zM417 150h7v7h-7zM469 150h15v7h-15zM492 150h7v7h-7zM522 150h22v7h-22zM552 150h15v7h-15zM357 157h7v8h-7zM379 157h8v8h-8zM469 157h38v8h-38zM522 157h15v8h-15zM559 157h8v8h-8zM357 165h7v7h-7zM469 165h8v7h-8zM484 165h15v7h-15zM514 165h23v7h-23zM357 172h7v8h-7zM409 172h23v8h-23zM447 172h22v8h-22zM492 172h7v8h-7zM529 172h8v8h-8zM544 172h15v8h-15z"/><path fill="#39ffbe" d="M131 67h8v7h-8zM154 67h7v7h-7zM169 67h8v7h-8zM199 67h15v7h-15zM237 67h7v7h-7zM289 67h8v7h-8zM304 67h15v7h-15zM327 67h15v7h-15zM124 74h15v8h-15zM146 74h8v8h-8zM207 74h15v8h-15zM274 74h15v8h-15zM334 74h15v8h-15zM131 82h8v7h-8zM177 82h7v7h-7zM282 82h7v7h-7zM342 82h15v7h-15zM131 89h8v8h-8zM146 89h8v8h-8zM169 89h8v8h-8zM214 89h8v8h-8zM319 89h8v8h-8zM334 89h23v8h-23zM124 97h15v7h-15zM146 97h15v7h-15zM184 97h8v7h-8zM252 97h7v7h-7zM342 97h15v7h-15zM154 104h7v8h-7zM207 104h7v8h-7zM237 104h7v8h-7zM267 104h7v8h-7zM282 104h7v8h-7zM304 104h15v8h-15zM124 112h7v8h-7zM139 112h7v8h-7zM184 112h8v8h-8zM207 112h7v8h-7zM259 112h8v8h-8zM124 120h7v7h-7zM139 120h15v7h-15zM154 127h7v8h-7zM124 135h7v7h-7zM237 135h7v7h-7zM282 135h7v7h-7zM124 142h7v8h-7zM124 150h15v7h-15zM199 150h8v7h-8zM237 150h7v7h-7zM199 157h8v8h-8zM237 157h7v8h-7zM124 165h22v7h-22zM161 165h8v7h-8zM184 165h23v7h-23zM237 165h7v7h-7zM131 172h15v8h-15zM161 172h16v8h-16zM184 172h30v8h-30zM229 172h8v8h-8zM252 172h7v8h-7zM267 172h7v8h-7zM289 172h8v8h-8zM334 172h8v8h-8zM131 180h8v7h-8zM237 180h15v7h-15zM184 187h8v8h-8zM274 195h8v7h-8zM304 195h8v7h-8zM327 202h7v8h-7zM116 210h8v7h-8zM267 210h7v7h-7zM334 210h8v7h-8zM116 217h8v8h-8zM274 217h15v8h-15zM116 247h8v8h-8zM282 255h7v7h-7zM297 262h7v8h-7zM342 262h15v8h-15zM116 270h8v7h-8zM229 270h8v7h-8zM274 270h8v7h-8zM304 270h8v7h-8zM342 270h15v7h-15zM184 277h8v8h-8zM274 277h8v8h-8zM349 277h8v8h-8zM124 285h7v7h-7zM274 285h8v7h-8zM349 285h8v7h-8zM177 292h7v8h-7zM267 292h7v8h-7zM282 292h7v8h-7zM267 300h15v7h-15zM289 300h8v7h-8zM312 300h15v7h-15zM349 300h8v7h-8zM192 307h30v8h-30zM274 307h8v8h-8zM297 307h30v8h-30zM334 307h15v8h-15zM131 315h8v7h-8zM169 315h15v7h-15zM192 315h15v7h-15zM229 315h8v7h-8zM252 315h7v7h-7zM274 315h8v7h-8zM289 315h8v7h-8zM304 315h15v7h-15zM327 315h30v7h-30zM116 322h8v8h-8zM169 322h15v8h-15zM192 322h15v8h-15zM252 322h15v8h-15zM282 322h7v8h-7zM342 322h15v8h-15zM154 330h7v7h-7zM169 330h38v7h-38zM237 330h7v7h-7zM297 330h7v7h-7zM312 330h7v7h-7zM116 337h8v8h-8zM161 337h16v8h-16zM184 337h53v8h-53zM267 337h15v8h-15zM289 337h15v8h-15zM312 337h37v8h-37zM161 345h68v7h-68zM237 345h7v7h-7zM252 345h7v7h-7zM304 345h8v7h-8zM334 345h15v7h-15zM116 352h8v8h-8zM154 352h15v8h-15zM214 352h8v8h-8zM229 352h15v8h-15zM154 360h7v7h-7zM177 360h15v7h-15zM229 360h8v7h-8zM282 360h37v7h-37zM342 360h7v7h-7zM146 367h8v8h-8zM169 367h8v8h-8zM184 367h53v8h-53zM244 367h23v8h-23zM274 367h8v8h-8zM289 367h53v8h-53zM154 375h7v7h-7zM169 375h15v7h-15zM192 375h37v7h-37zM267 375h15v7h-15zM297 375h7v7h-7zM312 375h22v7h-22zM131 382h15v8h-15zM169 382h15v8h-15zM199 382h38v8h-38zM244 382h15v8h-15zM274 382h23v8h-23zM304 382h38v8h-38zM139 390h7v7h-7zM154 390h15v7h-15zM177 390h7v7h-7zM192 390h45v7h-45zM267 390h22v7h-22zM297 390h22v7h-22zM327 390h7v7h-7zM146 397h53v8h-53zM214 397h15v8h-15zM267 397h7v8h-7zM282 397h7v8h-7zM297 397h15v8h-15zM139 405h15v7h-15zM161 405h16v7h-16zM199 405h8v7h-8zM214 405h23v7h-23zM244 405h23v7h-23zM274 405h8v7h-8zM297 405h15v7h-15zM319 405h8v7h-8zM131 412h38v8h-38zM192 412h22v8h-22z"/><path fill="#3cffba" d="M124 420h7v7h-7zM184 420h15v7h-15zM207 420h22v7h-22zM146 427h15v8h-15zM169 427h8v8h-8zM184 427h8v8h-8zM207 427h22v8h-22zM169 435h8v7h-8zM184 435h53v7h-53zM169 442h8v8h-8zM161 450h38v7h-38zM207 450h7v7h-7zM222 450h7v7h-7zM161 457h23v8h-23zM199 457h30v8h-30zM154 465h23v7h-23zM184 465h30v7h-30zM222 465h7v7h-7zM146 472h23v8h-23zM177 472h30v8h-30zM214 472h15v8h-15zM124 480h15v7h-15zM146 480h38v7h-38zM207 480h15v7h-15zM139 487h7v8h-7zM192 487h37v8h-37zM131 502h15v8h-15zM222 502h7v8h-7z"/><path fill="#43ffb4" d="M394 300h8v7h-8zM417 300h30v7h-30zM462 300h7v7h-7zM417 307h7v8h-7zM357 315h7v7h-7zM424 315h30v7h-30zM417 322h30v8h-30zM462 322h7v8h-7zM379 330h8v7h-8zM402 330h52v7h-52zM364 337h8v8h-8zM424 337h45v8h-45zM387 345h7v7h-7zM417 345h15v7h-15zM439 345h30v7h-30zM394 352h15v8h-15zM417 352h52v8h-52zM424 360h8v7h-8zM439 360h38v7h-38zM379 367h23v8h-23zM424 367h23v8h-23zM462 367h7v8h-7zM379 375h30v7h-30zM417 375h15v7h-15zM439 375h30v7h-30zM387 382h22v8h-22zM417 382h45v8h-45zM372 390h7v7h-7zM387 390h15v7h-15zM409 390h23v7h-23zM439 390h15v7h-15zM469 390h8v7h-8zM357 397h7v8h-7zM387 397h30v8h-30zM439 397h8v8h-8zM387 405h7v7h-7zM409 405h15v7h-15zM409 412h8v8h-8zM252 420h7v7h-7zM312 420h22v7h-22zM342 420h7v7h-7zM244 427h8v8h-8zM274 427h15v8h-15zM297 427h7v8h-7zM312 427h15v8h-15zM252 435h15v7h-15zM282 435h7v7h-7zM349 435h8v7h-8zM244 442h15v8h-15zM282 442h7v8h-7zM297 450h7v7h-7zM289 457h8v8h-8zM327 457h7v8h-7zM274 465h15v7h-15zM327 465h7v7h-7zM289 472h15v8h-15zM312 472h7v8h-7zM297 480h7v7h-7zM327 480h7v7h-7zM267 487h7v8h-7zM237 502h7v8h-7zM237 525h7v7h-7z"/><path fill="#46ffb1" d="M507 300h7v7h-7zM514 307h8v8h-8zM529 307h8v8h-8zM544 307h15v8h-15zM477 315h7v7h-7zM529 315h8v7h-8zM559 315h8v7h-8zM514 322h38v8h-38zM582 322h7v8h-7zM514 330h8v7h-8zM529 330h15v7h-15zM567 330h7v7h-7zM507 337h45v8h-45zM567 337h7v8h-7zM477 345h7v7h-7zM499 345h8v7h-8zM514 345h38v7h-38zM559 345h15v7h-15zM499 352h23v8h-23zM529 352h45v8h-45zM499 360h68v7h-68zM574 360h8v7h-8zM477 367h7v8h-7zM492 367h15v8h-15zM522 367h7v8h-7zM544 367h30v8h-30zM492 375h7v7h-7zM514 375h30v7h-30zM559 375h15v7h-15zM492 382h60v8h-60zM559 382h23v8h-23zM484 390h8v7h-8zM499 390h23v7h-23zM537 390h7v7h-7zM552 390h30v7h-30zM477 397h7v8h-7zM492 397h67v8h-67zM567 397h15v8h-15zM477 405h7v7h-7zM492 405h7v7h-7zM507 405h75v7h-75zM492 412h7v8h-7zM507 412h7v8h-7zM522 412h30v8h-30zM357 420h15v7h-15zM357 427h7v8h-7zM409 427h8v8h-8zM424 427h8v8h-8zM469 427h8v8h-8zM372 435h7v7h-7zM469 435h8v7h-8zM364 442h8v8h-8zM424 442h15v8h-15zM394 450h8v7h-8zM409 450h8v7h-8zM424 450h8v7h-8zM364 457h8v8h-8zM379 457h8v8h-8zM394 457h8v8h-8zM409 457h8v8h-8zM402 465h7v7h-7zM372 472h7v8h-7zM394 472h8v8h-8zM439 472h8v8h-8zM424 480h8v7h-8zM439 480h8v7h-8zM469 480h8v7h-8zM402 487h7v8h-7zM469 487h8v8h-8zM424 495h8v7h-8zM424 502h15v8h-15zM469 510h8v7h-8z"/><path fill="#49ffad" d="M522 187h7v8h-7zM559 187h8v8h-8zM477 195h7v7h-7zM507 195h7v7h-7zM522 195h7v7h-7zM567 195h7v7h-7zM477 202h15v8h-15zM507 202h7v8h-7zM522 202h7v8h-7zM552 202h7v8h-7zM499 210h8v7h-8zM589 210h8v7h-8zM499 217h8v8h-8zM537 217h22v8h-22zM589 217h8v8h-8zM477 240h7v7h-7zM544 247h8v8h-8zM477 277h7v8h-7zM522 277h7v8h-7zM567 285h7v7h-7zM499 292h15v8h-15zM522 292h7v8h-7zM582 292h7v8h-7zM492 420h22v7h-22zM529 420h8v7h-8zM537 427h7v8h-7zM559 427h8v8h-8zM537 435h7v7h-7zM484 442h8v8h-8zM492 450h7v7h-7zM537 450h7v7h-7zM559 450h8v7h-8zM507 465h15v7h-15zM544 480h30v7h-30zM522 487h7v8h-7zM514 495h8v7h-8zM484 502h8v8h-8zM567 502h7v8h-7zM522 510h22v7h-22zM559 510h8v7h-8zM544 517h8v8h-8zM574 517h8v8h-8zM499 532h8v8h-8z"/><path fill="#53ffa4" d="M372 270h7v7h-7zM372 292h22v8h-22zM402 292h15v8h-15z"/><path fill="#56ffa0" d="M372 60h15v7h-15zM394 67h15v7h-15zM447 67h30v7h-30zM514 67h8v7h-8zM537 67h7v7h-7zM552 67h7v7h-7zM589 67h8v7h-8zM432 74h7v8h-7zM454 74h23v8h-23zM514 74h8v8h-8zM544 74h30v8h-30zM589 74h8v8h-8zM447 82h7v7h-7zM462 82h15v7h-15zM484 82h8v7h-8zM514 82h8v7h-8zM559 82h15v7h-15zM589 82h8v7h-8zM462 89h22v8h-22zM574 89h8v8h-8zM589 89h8v8h-8zM574 97h8v7h-8zM357 104h7v8h-7zM372 104h7v8h-7zM574 104h8v8h-8zM469 112h8v8h-8zM462 120h7v7h-7zM477 127h7v8h-7zM582 127h7v8h-7zM357 135h7v7h-7zM357 142h7v8h-7zM477 142h7v8h-7zM574 142h15v8h-15zM477 165h7v7h-7zM432 172h15v8h-15zM499 172h8v8h-8zM522 172h7v8h-7zM567 172h22v8h-22z"/><path fill="#5aff9d" d="M252 60h15v7h-15zM274 60h8v7h-8zM349 60h8v7h-8zM124 67h7v7h-7zM146 67h8v7h-8zM161 67h8v7h-8zM214 67h8v7h-8zM274 67h15v7h-15zM342 67h15v7h-15zM161 74h8v8h-8zM349 74h8v8h-8zM139 82h7v7h-7zM124 89h7v8h-7zM139 89h7v8h-7zM297 89h7v8h-7zM229 97h8v7h-8zM334 97h8v7h-8zM124 104h7v8h-7zM207 127h7v8h-7zM349 135h8v7h-8zM237 142h7v8h-7zM349 142h8v8h-8zM192 150h7v7h-7zM124 157h7v8h-7zM124 172h7v8h-7zM154 172h7v8h-7zM237 172h15v8h-15zM274 172h15v8h-15zM312 172h7v8h-7zM342 172h7v8h-7zM304 180h8v7h-8zM259 187h8v8h-8zM312 187h7v8h-7zM244 195h8v7h-8zM327 195h7v7h-7zM334 232h8v8h-8zM116 255h8v7h-8zM199 277h8v8h-8zM342 285h7v7h-7zM146 300h8v7h-8zM207 300h7v7h-7zM237 300h7v7h-7zM252 300h7v7h-7zM222 307h15v8h-15zM349 307h8v8h-8zM237 315h7v7h-7zM161 322h8v8h-8zM207 322h7v8h-7zM222 322h22v8h-22zM116 330h8v7h-8zM146 330h8v7h-8zM161 330h8v7h-8zM349 330h8v7h-8zM116 345h8v7h-8zM154 345h7v7h-7zM229 345h8v7h-8zM139 352h7v8h-7zM349 352h8v8h-8zM237 360h7v7h-7zM349 360h8v7h-8zM237 367h7v8h-7zM349 367h8v8h-8zM146 375h8v7h-8zM229 375h15v7h-15zM259 375h8v7h-8zM282 375h15v7h-15zM304 375h8v7h-8zM161 382h8v8h-8zM146 390h8v7h-8zM244 390h15v7h-15zM289 390h8v7h-8zM334 390h8v7h-8zM199 397h15v8h-15zM259 397h8v8h-8zM274 397h8v8h-8zM289 397h8v8h-8zM312 397h15v8h-15zM131 405h8v7h-8zM154 405h7v7h-7zM237 405h7v7h-7zM267 405h7v7h-7zM282 405h15v7h-15zM214 412h15v8h-15zM237 412h7v8h-7zM259 412h8v8h-8zM274 412h8v8h-8zM297 412h7v8h-7z"/><path fill="#60ff97" d="M177 427h7v8h-7zM192 427h15v8h-15zM229 427h8v8h-8zM161 435h8v7h-8zM177 435h7v7h-7zM161 442h8v8h-8zM177 442h7v8h-7zM192 442h22v8h-22zM222 442h15v8h-15zM214 450h8v7h-8zM229 450h8v7h-8zM154 457h7v8h-7zM184 457h15v8h-15zM229 457h8v8h-8zM146 465h8v7h-8zM229 465h8v7h-8zM229 472h8v8h-8zM139 480h7v7h-7zM222 480h15v7h-15zM124 487h15v8h-15zM146 487h46v8h-46zM229 487h8v8h-8zM124 495h30v7h-30zM161 495h16v7h-16zM184 495h23v7h-23zM214 495h23v7h-23zM146 502h61v8h-61zM214 502h8v8h-8zM229 502h8v8h-8zM131 510h8v7h-8zM146 510h38v7h-38zM192 510h15v7h-15zM214 510h23v7h-23zM131 517h8v8h-8zM146 517h15v8h-15zM169 517h8v8h-8zM207 517h7v8h-7zM146 525h8v7h-8zM169 525h8v7h-8zM222 525h7v7h-7z"/><path fill="#63ff94" d="M237 420h15v7h-15zM259 420h15v7h-15zM289 420h15v7h-15zM349 420h8v7h-8zM237 427h7v8h-7zM252 427h22v8h-22zM289 427h8v8h-8zM304 427h8v8h-8zM349 427h8v8h-8zM244 435h8v7h-8zM267 435h15v7h-15zM289 435h23v7h-23zM259 442h23v8h-23zM289 442h8v8h-8zM304 442h8v8h-8zM319 442h8v8h-8zM342 442h7v8h-7zM237 450h7v7h-7zM252 450h22v7h-22zM282 450h15v7h-15zM304 450h45v7h-45zM259 457h30v8h-30zM304 457h23v8h-23zM334 457h23v8h-23zM267 465h7v7h-7zM289 465h15v7h-15zM312 465h15v7h-15zM342 465h7v7h-7zM259 472h30v8h-30zM319 472h30v8h-30zM259 480h23v7h-23zM304 480h23v7h-23zM334 480h15v7h-15zM259 487h8v8h-8zM274 487h30v8h-30zM327 487h7v8h-7zM252 495h22v7h-22zM312 495h7v7h-7zM327 495h7v7h-7zM259 502h23v8h-23zM289 502h8v8h-8zM237 510h7v7h-7zM259 510h8v7h-8zM274 510h8v7h-8zM297 510h15v7h-15z"/><path fill="#66ff90" d="M409 300h8v7h-8zM454 300h8v7h-8zM469 300h15v7h-15zM522 300h30v7h-30zM559 300h23v7h-23zM424 307h45v8h-45zM559 307h30v8h-30zM394 315h15v7h-15zM454 315h23v7h-23zM522 315h7v7h-7zM537 315h22v7h-22zM567 315h22v7h-22zM394 322h23v8h-23zM447 322h7v8h-7zM469 322h8v8h-8zM507 322h7v8h-7zM552 322h22v8h-22zM394 330h8v7h-8zM469 330h8v7h-8zM499 330h15v7h-15zM522 330h7v7h-7zM544 330h23v7h-23zM582 330h7v7h-7zM387 337h30v8h-30zM469 337h8v8h-8zM499 337h8v8h-8zM552 337h15v8h-15zM574 337h8v8h-8zM394 345h15v7h-15zM469 345h8v7h-8zM574 345h15v7h-15zM387 352h7v8h-7zM469 352h15v8h-15zM574 352h15v8h-15zM357 360h7v7h-7zM387 360h30v7h-30zM432 360h7v7h-7zM582 360h7v7h-7zM402 367h7v8h-7zM447 367h15v8h-15zM529 367h15v8h-15zM574 367h15v8h-15zM469 375h15v7h-15zM544 375h15v7h-15zM574 375h15v7h-15zM582 382h7v8h-7zM379 390h8v7h-8zM522 390h7v7h-7zM582 390h7v7h-7zM379 397h8v8h-8zM424 397h15v8h-15zM559 397h8v8h-8zM582 397h7v8h-7zM379 405h8v7h-8zM394 405h15v7h-15zM582 405h7v7h-7zM357 412h7v8h-7zM372 412h7v8h-7zM439 412h8v8h-8zM499 412h8v8h-8zM514 412h8v8h-8zM552 412h22v8h-22zM582 412h7v8h-7zM379 420h53v7h-53zM439 420h8v7h-8zM364 427h45v8h-45zM432 427h22v8h-22zM364 435h8v7h-8zM379 435h15v7h-15zM402 435h52v7h-52zM379 442h23v8h-23zM409 442h15v8h-15zM439 442h15v8h-15zM364 450h30v7h-30zM402 450h7v7h-7zM417 450h7v7h-7zM432 450h22v7h-22zM469 450h8v7h-8zM372 457h7v8h-7zM387 457h7v8h-7zM402 457h7v8h-7zM417 457h15v8h-15zM439 457h15v8h-15zM469 457h8v8h-8zM364 465h15v7h-15zM387 465h15v7h-15zM409 465h38v7h-38zM364 472h8v8h-8zM379 472h15v8h-15zM402 472h7v8h-7zM417 472h22v8h-22zM364 480h53v7h-53zM432 480h7v7h-7zM364 487h23v8h-23zM394 487h8v8h-8zM409 487h30v8h-30zM379 495h8v7h-8zM402 495h22v7h-22zM432 495h22v7h-22zM394 502h8v8h-8zM409 502h15v8h-15zM439 502h15v8h-15zM409 510h30v7h-30zM447 510h7v7h-7zM439 517h8v8h-8zM424 525h8v7h-8zM469 525h8v7h-8zM439 532h8v8h-8z"/><path fill="#6aff8d" d="M484 420h8v7h-8zM514 420h15v7h-15zM567 420h15v7h-15zM484 427h38v8h-38zM529 427h8v8h-8zM544 427h15v8h-15zM567 427h15v8h-15zM484 435h8v7h-8zM522 435h7v7h-7zM544 435h30v7h-30zM529 442h23v8h-23zM559 442h15v8h-15zM529 450h8v7h-8zM544 450h15v7h-15zM567 450h15v7h-15zM507 457h15v8h-15zM529 457h53v8h-53zM522 465h37v7h-37zM574 465h8v7h-8zM507 472h15v8h-15zM537 472h15v8h-15zM567 472h7v8h-7zM514 480h30v7h-30zM574 480h8v7h-8zM507 487h15v8h-15zM529 487h23v8h-23zM567 487h7v8h-7zM492 495h7v7h-7zM507 495h7v7h-7zM522 495h60v7h-60zM514 502h53v8h-53zM484 510h38v7h-38zM544 510h15v7h-15zM567 510h15v7h-15zM499 517h45v8h-45zM552 517h22v8h-22zM537 525h7v7h-7zM559 525h15v7h-15z"/><path fill="#73ff83" d="M559 180h8v7h-8zM484 195h8v7h-8zM514 195h8v7h-8zM529 202h8v8h-8zM529 210h8v7h-8zM552 210h7v7h-7zM477 247h7v8h-7zM477 255h7v7h-7zM477 262h7v8h-7zM492 270h7v7h-7zM514 292h8v8h-8z"/><path fill="#7dff7a" d="M379 210h8v7h-8zM469 217h8v8h-8zM357 262h7v8h-7z"/><path fill="#800000" d="M297 532h7v8h-7z"/><path fill="#80ff77" d="M357 60h7v7h-7zM484 60h8v7h-8zM574 60h8v7h-8zM439 67h8v7h-8zM544 67h8v7h-8zM424 82h8v7h-8zM492 89h15v8h-15zM589 97h8v7h-8zM424 104h8v8h-8zM544 157h8v8h-8zM469 172h8v8h-8zM484 172h8v8h-8zM507 172h7v8h-7zM589 172h8v8h-8z"/><path fill="#83ff73" d="M282 60h7v7h-7zM342 60h7v7h-7zM222 67h15v7h-15zM229 74h8v8h-8zM267 74h7v8h-7zM124 82h7v7h-7zM259 82h8v7h-8zM116 89h8v8h-8zM116 104h8v8h-8zM116 165h8v7h-8zM334 225h8v7h-8zM116 262h8v8h-8zM334 277h8v8h-8zM116 300h8v7h-8zM229 300h8v7h-8zM161 307h8v8h-8zM184 315h8v7h-8zM349 337h8v8h-8zM349 345h8v7h-8zM237 382h7v8h-7zM349 382h8v8h-8zM124 390h7v7h-7zM169 390h8v7h-8zM237 390h7v7h-7zM259 390h8v7h-8zM124 397h7v8h-7zM327 397h7v8h-7zM177 412h7v8h-7zM267 412h7v8h-7zM304 412h8v8h-8z"/><path fill="#8aff6d" d="M169 420h8v7h-8zM184 442h8v8h-8zM146 450h8v7h-8zM214 465h8v7h-8zM154 495h7v7h-7zM207 495h7v7h-7zM124 502h7v8h-7zM139 510h7v7h-7zM184 510h8v7h-8zM207 510h7v7h-7zM139 517h7v8h-7zM161 517h8v8h-8zM177 517h15v8h-15zM199 517h8v8h-8zM214 517h23v8h-23zM131 525h8v7h-8zM161 525h8v7h-8zM184 525h8v7h-8zM214 525h8v7h-8zM229 525h8v7h-8z"/><path fill="#8dff6a" d="M237 435h7v7h-7zM327 435h15v7h-15zM327 442h7v8h-7zM274 450h8v7h-8zM349 450h8v7h-8zM334 465h8v7h-8zM349 480h8v7h-8zM304 487h23v8h-23zM334 487h15v8h-15zM274 495h8v7h-8zM289 495h8v7h-8zM319 495h8v7h-8zM334 495h8v7h-8zM282 502h7v8h-7zM297 502h15v8h-15zM327 502h15v8h-15zM267 510h7v7h-7zM282 510h7v7h-7zM327 510h15v7h-15zM244 517h8v8h-8zM267 517h30v8h-30zM304 517h8v8h-8zM327 517h15v8h-15z"/><path fill="#90ff66" d="M357 300h7v7h-7zM484 300h8v7h-8zM469 307h8v8h-8zM357 322h7v8h-7zM454 330h15v7h-15zM574 330h8v7h-8zM589 330h8v7h-8zM552 345h7v7h-7zM589 360h8v7h-8zM357 367h7v8h-7zM462 382h7v8h-7zM379 412h8v8h-8zM402 412h7v8h-7zM417 412h7v8h-7zM469 412h8v8h-8zM574 412h8v8h-8zM447 420h15v7h-15zM417 427h7v8h-7zM357 435h7v7h-7zM394 435h8v7h-8zM357 442h7v8h-7zM402 442h7v8h-7zM379 465h8v7h-8zM447 465h7v7h-7zM387 487h7v8h-7zM439 487h15v8h-15zM364 495h15v7h-15zM387 495h15v7h-15zM364 502h15v8h-15zM462 502h7v8h-7zM364 510h45v7h-45zM372 517h7v8h-7zM387 517h15v8h-15zM409 517h15v8h-15z"/><path fill="#94ff63" d="M552 420h15v7h-15zM522 427h7v8h-7zM477 435h7v7h-7zM529 435h8v7h-8zM574 435h15v7h-15zM522 442h7v8h-7zM552 442h7v8h-7zM477 450h7v7h-7zM522 450h7v7h-7zM582 450h7v7h-7zM522 457h7v8h-7zM582 457h7v8h-7zM559 465h15v7h-15zM582 465h7v7h-7zM522 472h7v8h-7zM582 472h7v8h-7zM582 480h7v7h-7zM552 487h15v8h-15zM574 487h15v8h-15zM499 495h8v7h-8zM582 495h7v7h-7zM499 502h15v8h-15zM574 502h15v8h-15zM582 510h7v7h-7zM484 517h15v8h-15zM484 525h23v7h-23zM522 525h15v7h-15zM544 525h15v7h-15z"/><path fill="#a40000" d="M402 532h15v8h-15zM544 532h8v8h-8zM582 532h7v8h-7z"/><path fill="#adff49" d="M131 60h8v7h-8zM161 60h8v7h-8zM177 60h7v7h-7zM237 60h7v7h-7zM304 60h30v7h-30zM387 60h7v7h-7zM402 60h15v7h-15zM432 60h7v7h-7zM454 60h8v7h-8zM499 60h8v7h-8zM529 60h8v7h-8zM567 60h7v7h-7zM116 67h8v7h-8zM559 67h8v7h-8zM116 74h8v8h-8zM492 74h7v8h-7zM574 74h8v8h-8zM252 89h7v8h-7zM357 89h7v8h-7zM116 97h8v7h-8zM357 97h7v7h-7zM589 104h8v8h-8zM116 120h8v7h-8zM589 127h8v8h-8zM477 135h7v7h-7zM589 135h8v7h-8zM327 142h7v8h-7zM567 150h7v7h-7zM116 157h8v8h-8zM589 165h8v7h-8zM514 172h8v8h-8zM357 180h7v7h-7zM417 180h7v7h-7zM454 180h8v7h-8zM319 187h8v8h-8zM477 187h7v8h-7zM499 187h8v8h-8zM582 187h7v8h-7zM529 195h8v7h-8zM574 262h8v8h-8zM574 277h8v8h-8zM229 285h8v7h-8zM484 285h8v7h-8zM357 292h7v8h-7zM492 292h7v8h-7zM537 292h7v8h-7zM169 300h8v7h-8zM214 300h15v7h-15zM499 300h8v7h-8zM582 300h7v7h-7zM589 307h8v8h-8zM514 315h8v7h-8zM589 315h8v7h-8zM387 322h7v8h-7zM589 322h8v8h-8zM237 337h7v8h-7zM582 337h7v8h-7zM477 360h7v7h-7zM589 375h8v7h-8zM379 382h8v8h-8zM229 397h8v8h-8zM372 397h7v8h-7zM312 405h7v7h-7zM372 405h7v7h-7zM229 412h8v8h-8zM244 412h15v8h-15zM282 412h15v8h-15zM394 412h8v8h-8zM304 420h8v7h-8zM462 420h7v7h-7zM477 427h7v8h-7zM582 427h7v8h-7zM312 435h15v7h-15zM492 435h7v7h-7zM312 442h7v8h-7zM469 442h8v8h-8zM454 450h8v7h-8zM357 457h7v8h-7zM432 457h7v8h-7zM589 457h8v8h-8zM259 465h8v7h-8zM304 465h8v7h-8zM477 465h7v7h-7zM469 472h15v8h-15zM552 472h7v8h-7zM574 472h8v8h-8zM282 480h7v7h-7zM349 487h8v8h-8zM589 487h8v8h-8zM282 495h7v7h-7zM304 495h8v7h-8zM342 495h15v7h-15zM469 495h8v7h-8zM252 502h7v8h-7zM312 502h15v8h-15zM342 502h15v8h-15zM387 502h7v8h-7zM402 502h7v8h-7zM492 502h7v8h-7zM124 510h7v7h-7zM252 510h7v7h-7zM289 510h8v7h-8zM342 510h15v7h-15zM439 510h8v7h-8zM124 517h7v8h-7zM252 517h15v8h-15zM297 517h7v8h-7zM312 517h15v8h-15zM342 517h15v8h-15zM364 517h8v8h-8zM379 517h8v8h-8zM402 517h7v8h-7zM424 517h8v8h-8zM154 525h7v7h-7zM177 525h7v7h-7zM192 525h15v7h-15zM267 525h52v7h-52zM327 525h15v7h-15zM364 525h8v7h-8zM387 525h15v7h-15zM507 525h15v7h-15z"/><path fill="#e1ff16" d="M124 60h7v7h-7zM139 60h7v7h-7zM154 60h7v7h-7zM169 60h8v7h-8zM192 60h22v7h-22zM244 60h8v7h-8zM289 60h15v7h-15zM394 60h8v7h-8zM469 60h8v7h-8zM544 60h8v7h-8zM237 74h7v8h-7zM424 74h8v8h-8zM589 112h8v8h-8zM589 142h8v8h-8zM116 172h8v8h-8zM537 172h7v8h-7zM507 187h7v8h-7zM499 202h8v8h-8zM589 202h8v8h-8zM334 217h8v8h-8zM582 270h7v7h-7zM567 277h7v8h-7zM559 292h8v8h-8zM552 300h7v7h-7zM402 307h7v8h-7zM146 322h8v8h-8zM477 322h7v8h-7zM589 352h8v8h-8zM477 382h7v8h-7zM334 397h8v8h-8zM124 405h7v7h-7zM349 412h8v8h-8zM477 412h7v8h-7zM589 412h8v8h-8zM544 420h8v7h-8zM507 435h7v7h-7zM589 435h8v7h-8zM237 442h7v8h-7zM582 442h7v8h-7zM357 450h7v7h-7zM514 450h8v7h-8zM477 457h7v8h-7zM357 465h7v7h-7zM589 465h8v7h-8zM589 472h8v8h-8zM357 480h7v7h-7zM477 480h7v7h-7zM589 480h8v7h-8zM499 487h8v8h-8zM357 495h7v7h-7zM357 502h7v8h-7zM477 502h7v8h-7zM477 510h7v7h-7zM192 517h7v8h-7zM477 517h7v8h-7zM582 517h7v8h-7zM207 525h7v7h-7zM252 525h15v7h-15zM349 525h8v7h-8zM372 525h15v7h-15zM229 532h8v8h-8zM334 532h8v8h-8zM424 532h8v8h-8zM492 532h7v8h-7zM514 532h15v8h-15z"/><path fill="#f60b00" d="M439 60h8v7h-8zM499 195h8v7h-8zM252 532h7v8h-7zM304 532h8v8h-8zM327 532h7v8h-7z"/><path fill="#feed00" d="M146 60h8v7h-8zM116 112h8v8h-8zM574 525h8v7h-8zM131 532h8v8h-8z"/><path fill="#ff4a00" d="M559 60h8v7h-8zM589 420h8v7h-8zM499 472h8v8h-8zM116 510h8v7h-8zM589 525h8v7h-8zM139 532h7v8h-7zM192 532h7v8h-7zM207 532h7v8h-7zM237 532h15v8h-15zM267 532h7v8h-7zM282 532h7v8h-7zM372 532h22v8h-22zM537 532h7v8h-7zM552 532h15v8h-15z"/><path fill="#ff8d00" d="M334 60h8v7h-8zM477 60h7v7h-7zM477 97h7v7h-7zM116 127h8v8h-8zM116 150h8v7h-8zM589 157h8v8h-8zM349 172h8v8h-8zM349 180h8v7h-8zM379 187h8v8h-8zM589 195h8v7h-8zM267 255h7v7h-7zM574 255h8v7h-8zM589 255h8v7h-8zM559 285h8v7h-8zM589 300h8v7h-8zM477 337h7v8h-7zM589 382h8v8h-8zM589 427h8v8h-8zM124 435h7v7h-7zM589 450h8v7h-8zM499 465h8v7h-8zM477 495h7v7h-7zM589 495h8v7h-8zM589 502h8v8h-8zM589 510h8v7h-8zM357 517h7v8h-7zM589 517h8v8h-8zM357 525h7v7h-7zM154 532h7v8h-7zM214 532h15v8h-15zM259 532h8v8h-8zM274 532h8v8h-8zM289 532h8v8h-8zM342 532h7v8h-7zM357 532h15v8h-15zM394 532h8v8h-8zM432 532h7v8h-7zM477 532h7v8h-7zM529 532h8v8h-8zM567 532h15v8h-15z"/><path fill="#ffab00" d="M116 60h8v7h-8zM184 60h8v7h-8zM214 60h8v7h-8zM116 82h8v7h-8zM161 532h8v8h-8zM184 532h8v8h-8z"/><path fill="#ffcc00" d="M447 60h7v7h-7zM462 60h7v7h-7zM537 60h7v7h-7zM552 60h7v7h-7zM589 120h8v7h-8zM477 172h7v8h-7zM514 187h8v8h-8zM552 187h7v8h-7zM589 247h8v8h-8zM574 270h8v7h-8zM589 345h8v7h-8zM589 367h8v8h-8zM357 390h7v7h-7zM589 390h8v7h-8zM589 397h8v8h-8zM589 405h8v7h-8zM312 412h7v8h-7zM589 442h8v8h-8zM499 457h8v8h-8zM357 472h7v8h-7zM499 480h8v7h-8zM357 487h7v8h-7zM477 487h7v8h-7zM357 510h7v7h-7zM432 517h7v8h-7zM124 525h7v7h-7zM139 525h7v7h-7zM319 525h8v7h-8zM402 525h22v7h-22zM477 525h7v7h-7zM582 525h7v7h-7zM177 532h7v8h-7zM199 532h8v8h-8zM349 532h8v8h-8zM454 532h8v8h-8zM484 532h8v8h-8z"/></g>
<rect x="116.5" y="60.5" width="480" height="480" fill="none" stroke="#000" stroke-width="1"/>
<path d="M120.5 540.5v-5.56M120.5 60.5v5.56M116.5 536.5h5.56M596.5 536.5h-5.56M195.5 540.5v-5.56M195.5 60.5v5.56M116.5 461.5h5.56M596.5 461.5h-5.56M270.5 540.5v-5.56M270.5 60.5v5.56M116.5 386.5h5.56M596.5 386.5h-5.56M345.5 540.5v-5.56M345.5 60.5v5.56M116.5 311.5h5.56M596.5 311.5h-5.56M420.5 540.5v-5.56M420.5 60.5v5.56M116.5 236.5h5.56M596.5 236.5h-5.56M495.5 540.5v-5.56M495.5 60.5v5.56M116.5 161.5h5.56M596.5 161.5h-5.56M570.5 540.5v-5.56M570.5 60.5v5.56M116.5 86.5h5.56M596.5 86.5h-5.56" stroke="#000" stroke-width="1" fill="none"/>
<g><path d="M627.05 81.10L638.05 59.50L649.05 81.10L649.05 518.40L638.05 540.10L627.05 518.40z" fill="url(#jg)" stroke="#000" stroke-width="1.35" stroke-linejoin="miter"/><path d="M649.05 518.40h-5.56M649.05 462.69h-5.56M649.05 406.99h-5.56M649.05 351.28h-5.56M649.05 295.57h-5.56M649.05 239.86h-5.56M649.05 184.16h-5.56M649.05 128.45h-5.56" stroke="#000" stroke-width="1" fill="none"/></g>
<g font-size="16.67px" fill="#000"><text x="120.2" y="557.9" text-anchor="middle">0</text><text x="195.2" y="557.9" text-anchor="middle">10</text><text x="270.2" y="557.9" text-anchor="middle">20</text><text x="345.2" y="557.9" text-anchor="middle">30</text><text x="420.2" y="557.9" text-anchor="middle">40</text><text x="495.2" y="557.9" text-anchor="middle">50</text><text x="570.2" y="557.9" text-anchor="middle">60</text><text x="111.4" y="541.0" text-anchor="end">0</text><text x="111.4" y="466.0" text-anchor="end">10</text><text x="111.4" y="391.0" text-anchor="end">20</text><text x="111.4" y="316.0" text-anchor="end">30</text><text x="111.4" y="241.0" text-anchor="end">40</text><text x="111.4" y="166.0" text-anchor="end">50</text><text x="111.4" y="91.0" text-anchor="end">60</text><text x="653.10" y="523">0</text><text x="653.10" y="467">80</text><text x="653.10" y="411">160</text><text x="653.10" y="355">240</text><text x="653.10" y="300">320</text><text x="653.10" y="244">400</text><text x="653.10" y="188">480</text><text x="652.15" y="132">560</text>
<text x="399.5" y="25" text-anchor="middle" letter-spacing="0.021">Data file: modeM0/AS1T01_057T01_9000000380_02556cztM0_level2_common_clean.evt</text>
</g>
<text x="356.4" y="53.9" text-anchor="middle" font-size="20px" letter-spacing="0.12" fill="#000">Quadrant 2 DPH</text>
</svg>
</body></html>
